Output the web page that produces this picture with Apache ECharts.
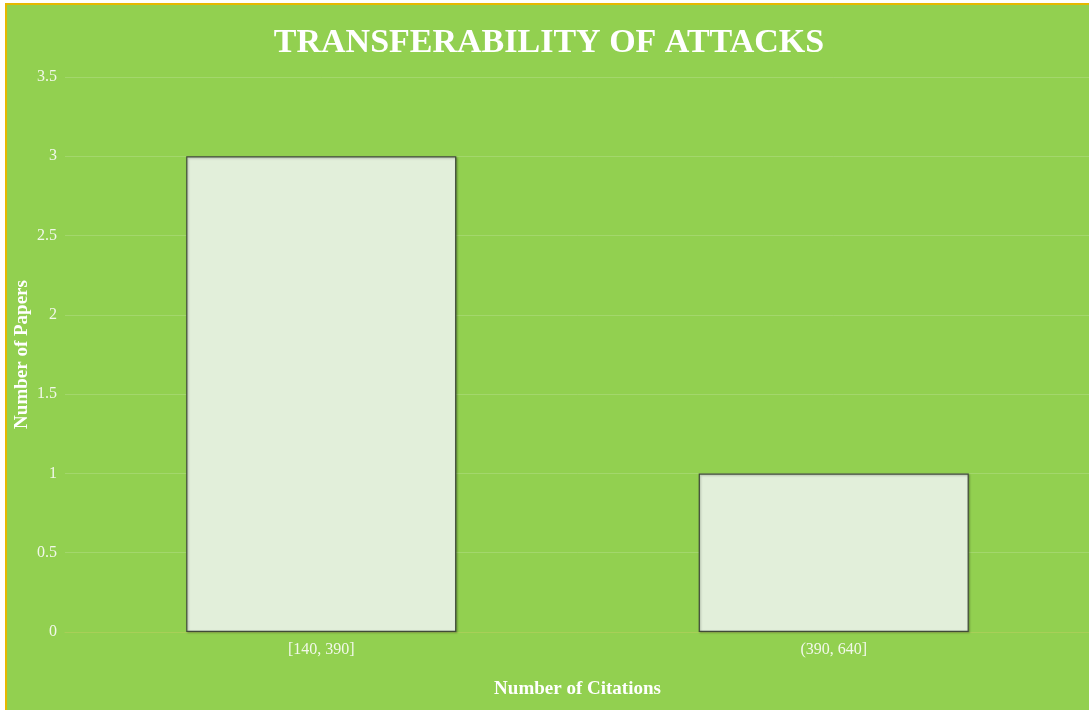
<!DOCTYPE html>
<html>
<head>
<meta charset="utf-8">
<script src="https://cdn.jsdelivr.net/npm/echarts@6/dist/echarts.min.js"></script>
<style>
  html, body { margin: 0; padding: 0; background: #ffffff; overflow: hidden; }
  #chart {
    position: absolute; left: 5px; top: 3px;
    width: 1084px; height: 705px;
    border-top: 2px solid #e6b800; border-left: 2px solid #e6b800;
    background: #92d050;
  }
</style>
</head>
<body>
<div id="chart"></div>
<script>
// 数据
const categories = ['[140, 390]', '(390, 640]'];
const paperCounts = [3, 1];
const yTicks = [0, 0.5, 1, 1.5, 2, 2.5, 3, 3.5];

const serif = '"Liberation Serif", "Times New Roman", serif';
const myChart = echarts.init(document.getElementById('chart'));
myChart.setOption({
    backgroundColor: '#92d050',
    animation: false,
    title: {
        text: 'TRANSFERABILITY OF ATTACKS',
        left: 'center',
        top: 16,
        textStyle: { color: '#ffffff', fontFamily: serif, fontWeight: 'bold', fontSize: 34 }
    },
    grid: { left: 58, right: 1, top: 72, bottom: 78, outerBoundsMode: 'none', containLabel: false },
    xAxis: {
        type: 'category',
        data: categories,
        name: 'Number of Citations',
        nameLocation: 'middle',
        nameGap: 48,
        nameMoveOverlap: false,
        nameTextStyle: { color: '#ffffff', fontFamily: serif, fontWeight: 'bold', fontSize: 19 },
        axisLine: { lineStyle: { color: '#a8cf58', width: 1 } },
        axisTick: { show: false },
        axisLabel: { color: '#f2f8ea', fontFamily: serif, fontSize: 16, margin: 10 }
    },
    yAxis: {
        type: 'value',
        min: yTicks[0],
        max: yTicks[yTicks.length - 1],
        interval: 0.5,
        name: 'Number of Papers',
        nameLocation: 'middle',
        nameGap: 33,
        nameMoveOverlap: false,
        nameTextStyle: { color: '#ffffff', fontFamily: serif, fontWeight: 'bold', fontSize: 19 },
        axisLine: { show: false },
        axisTick: { show: false },
        axisLabel: { color: '#f2f8ea', fontFamily: serif, fontSize: 16, margin: 8 },
        splitLine: { lineStyle: { color: 'rgba(255,255,255,0.16)', width: 1 } }
    },
    series: [{
        type: 'bar',
        data: paperCounts,
        barWidth: '52.7%',
        itemStyle: {
            color: '#e2efda',
            borderColor: '#3f4a38',
            borderWidth: 1.2,
            shadowColor: 'rgba(0,0,0,0.25)',
            shadowBlur: 2,
            shadowOffsetX: 1,
            shadowOffsetY: 1
        }
    }]
});
</script>
</body>
</html>
